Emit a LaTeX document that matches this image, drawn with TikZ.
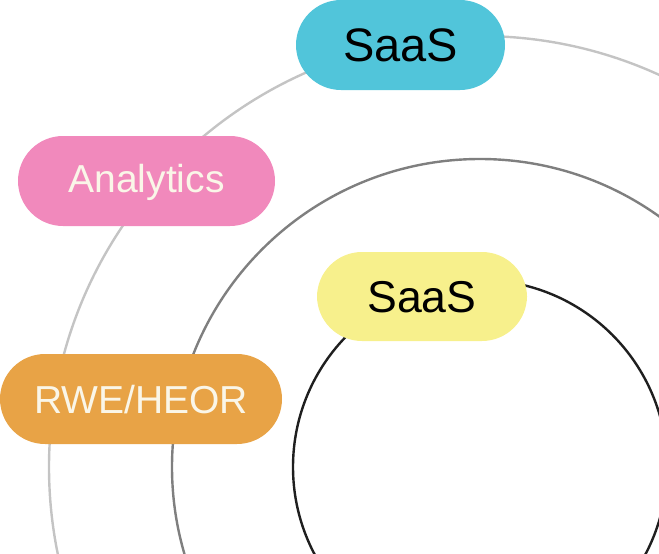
\documentclass[tikz,border=0pt]{standalone}
\usepackage{fontspec}
\setmainfont{Liberation Sans}
\definecolor{ringA}{HTML}{C4C4C4}
\definecolor{ringB}{HTML}{7F7F7F}
\definecolor{ringC}{HTML}{1F1F1F}
\definecolor{cyanbox}{HTML}{51C5DA}
\definecolor{pinkbox}{HTML}{F189BC}
\definecolor{yellowbox}{HTML}{F7F08C}
\definecolor{orangebox}{HTML}{E8A346}
\definecolor{creamtext}{HTML}{FAF6E8}
\tikzset{
  ring/.style={line width=2.4pt},
  pill/.style={rectangle, draw=none, inner sep=0pt, minimum height=90pt, rounded corners=45pt, align=center, text depth=0pt},
  bigtext/.style={font=\fontsize{47}{47}\selectfont, text=black, text height=33.6pt},
  midtext/.style={font=\fontsize{44.6}{44.6}\selectfont, text=black, text height=32pt},
  smalltext/.style={font=\fontsize{39}{39}\selectfont, text=creamtext, text height=28pt},
}
\begin{document}
\begin{tikzpicture}[x=1pt,y=-1pt]
\useasboundingbox (0,0) rectangle (659,554);
\coordinate (ctr) at (480,467);
\begin{scope}
\clip (0,0) rectangle (659,554);
\draw[ring, ringA] (ctr) circle[radius=431pt];
\draw[ring, ringB] (ctr) circle[radius=308pt];
\draw[ring, ringC] (ctr) circle[radius=187pt];
\end{scope}
\node[pill, bigtext, fill=cyanbox, minimum width=209pt] (saasA) at (400.5,45) {SaaS};
\node[pill, smalltext, fill=pinkbox, minimum width=257pt, text depth=6pt] (analytics) at (146.5,181) {Analytics};
\node[pill, midtext, fill=yellowbox, minimum width=210pt, minimum height=89pt] (saasB) at (422,296.5) {SaaS};
\node[pill, smalltext, fill=orangebox, minimum width=282pt] (rwe) at (141,399) {RWE/HEOR};
\end{tikzpicture}
\end{document}
